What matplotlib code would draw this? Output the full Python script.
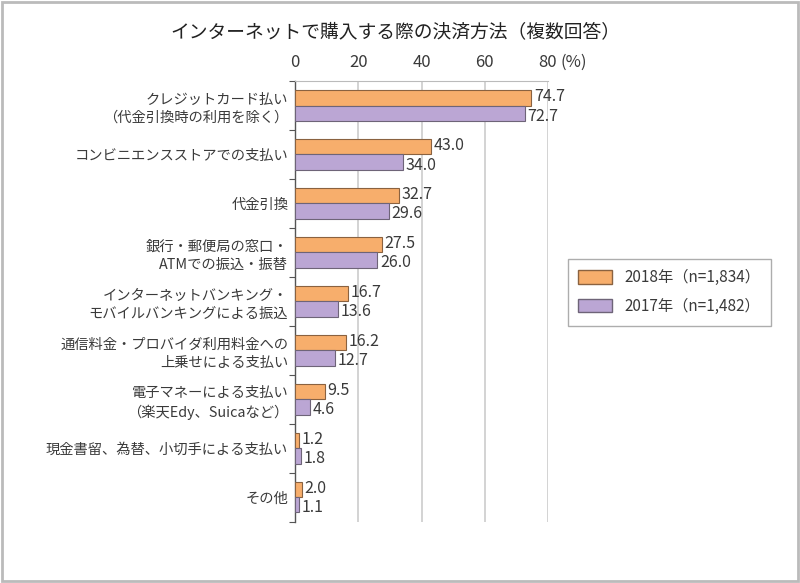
import matplotlib.pyplot as plt
import numpy as np
from matplotlib.patches import Rectangle, Patch

plt.rcParams['font.family'] = ['Noto Sans CJK JP', 'DejaVu Sans']

categories = ['クレジットカード払い\n（代金引換時の利用を除く）',
              'コンビニエンスストアでの支払い',
              '代金引換',
              '銀行・郵便局の窓口・\nATMでの振込・振替',
              'インターネットバンキング・\nモバイルバンキングによる振込',
              '通信料金・プロバイダ利用料金への\n上乗せによる支払い',
              '電子マネーによる支払い\n（楽天Edy、Suicaなど）',
              '現金書留、為替、小切手による支払い',
              'その他']
v2018 = [74.7, 43.0, 32.7, 27.5, 16.7, 16.2, 9.5, 1.2, 2.0]
v2017 = [72.7, 34.0, 29.6, 26.0, 13.6, 12.7, 4.6, 1.8, 1.1]
labels = ['2018年（n=1,834）', '2017年（n=1,482）']
xticks = [0, 20, 40, 60, 80]

c18 = '#F7AE6C'
c17 = '#BBA6D4'
e18 = '#8a6240'
e17 = '#6e6478'
txt = '#3a3a3a'

fig = plt.figure(figsize=(8, 5.83), dpi=100)
ax = fig.add_axes([0.369, 0.105, 0.316, 0.756])

y = np.arange(len(categories))
h = 0.31
ax.barh(y - h / 2, v2018, height=h, color=c18, edgecolor=e18, linewidth=0.8, zorder=3)
ax.barh(y + h / 2, v2017, height=h, color=c17, edgecolor=e17, linewidth=0.8, zorder=3)

for i in range(len(categories)):
    ax.text(v2018[i] + 0.8, y[i] - h / 2 - 0.02, f'{v2018[i]:.1f}', va='center', ha='left',
            fontsize=11.5, color=txt)
    ax.text(v2017[i] + 0.8, y[i] + h / 2 + 0.06, f'{v2017[i]:.1f}', va='center', ha='left',
            fontsize=11.5, color=txt)

ax.set_xlim(0, 80)
ax.set_ylim(len(categories) - 0.5, -0.5)
ax.xaxis.tick_top()
ax.set_xticks(xticks)
ax.set_xticklabels([str(t) for t in xticks], fontsize=12, color=txt)
ax.tick_params(axis='x', length=0, pad=7)
ax.annotate('(%)', (80, 1), xycoords=ax.get_xaxis_transform(), xytext=(9, 7),
            textcoords='offset points', va='bottom', ha='left', fontsize=12, color=txt)
ax.set_yticks(y)
ax.set_yticklabels(categories, fontsize=10.3, color=txt, linespacing=1.35)
ax.tick_params(axis='y', length=0, pad=5)
ax.set_yticks(np.arange(len(categories) + 1) - 0.5, minor=True)
ax.tick_params(axis='y', which='minor', length=4, color='#555555', width=0.8)

ax.grid(axis='x', color='#cccccc', linewidth=1.2, zorder=0)
for s in ['right', 'bottom']:
    ax.spines[s].set_visible(False)
ax.spines['top'].set_color('#bbbbbb')
ax.spines['left'].set_color('#555555')
ax.spines['left'].set_linewidth(1.0)

fig.text(0.494, 0.946, 'インターネットで購入する際の決済方法（複数回答）', ha='center', va='center',
         fontsize=13.5, color='#222222')

handles = [Patch(facecolor=c18, edgecolor=e18), Patch(facecolor=c17, edgecolor=e17)]
leg = fig.legend(handles, labels, loc='center left', bbox_to_anchor=(0.700, 0.499),
                 fontsize=11, frameon=True, fancybox=False, edgecolor='#999999',
                 handlelength=2.2, handleheight=1.0, borderpad=0.7, labelspacing=0.75)
for t in leg.get_texts():
    t.set_color(txt)

fig.patches.append(Rectangle((0.002, 0.003), 0.996, 0.994, transform=fig.transFigure,
                             fill=False, edgecolor='#bbbbbb', linewidth=2))

fig.savefig('out.png', dpi=100)
